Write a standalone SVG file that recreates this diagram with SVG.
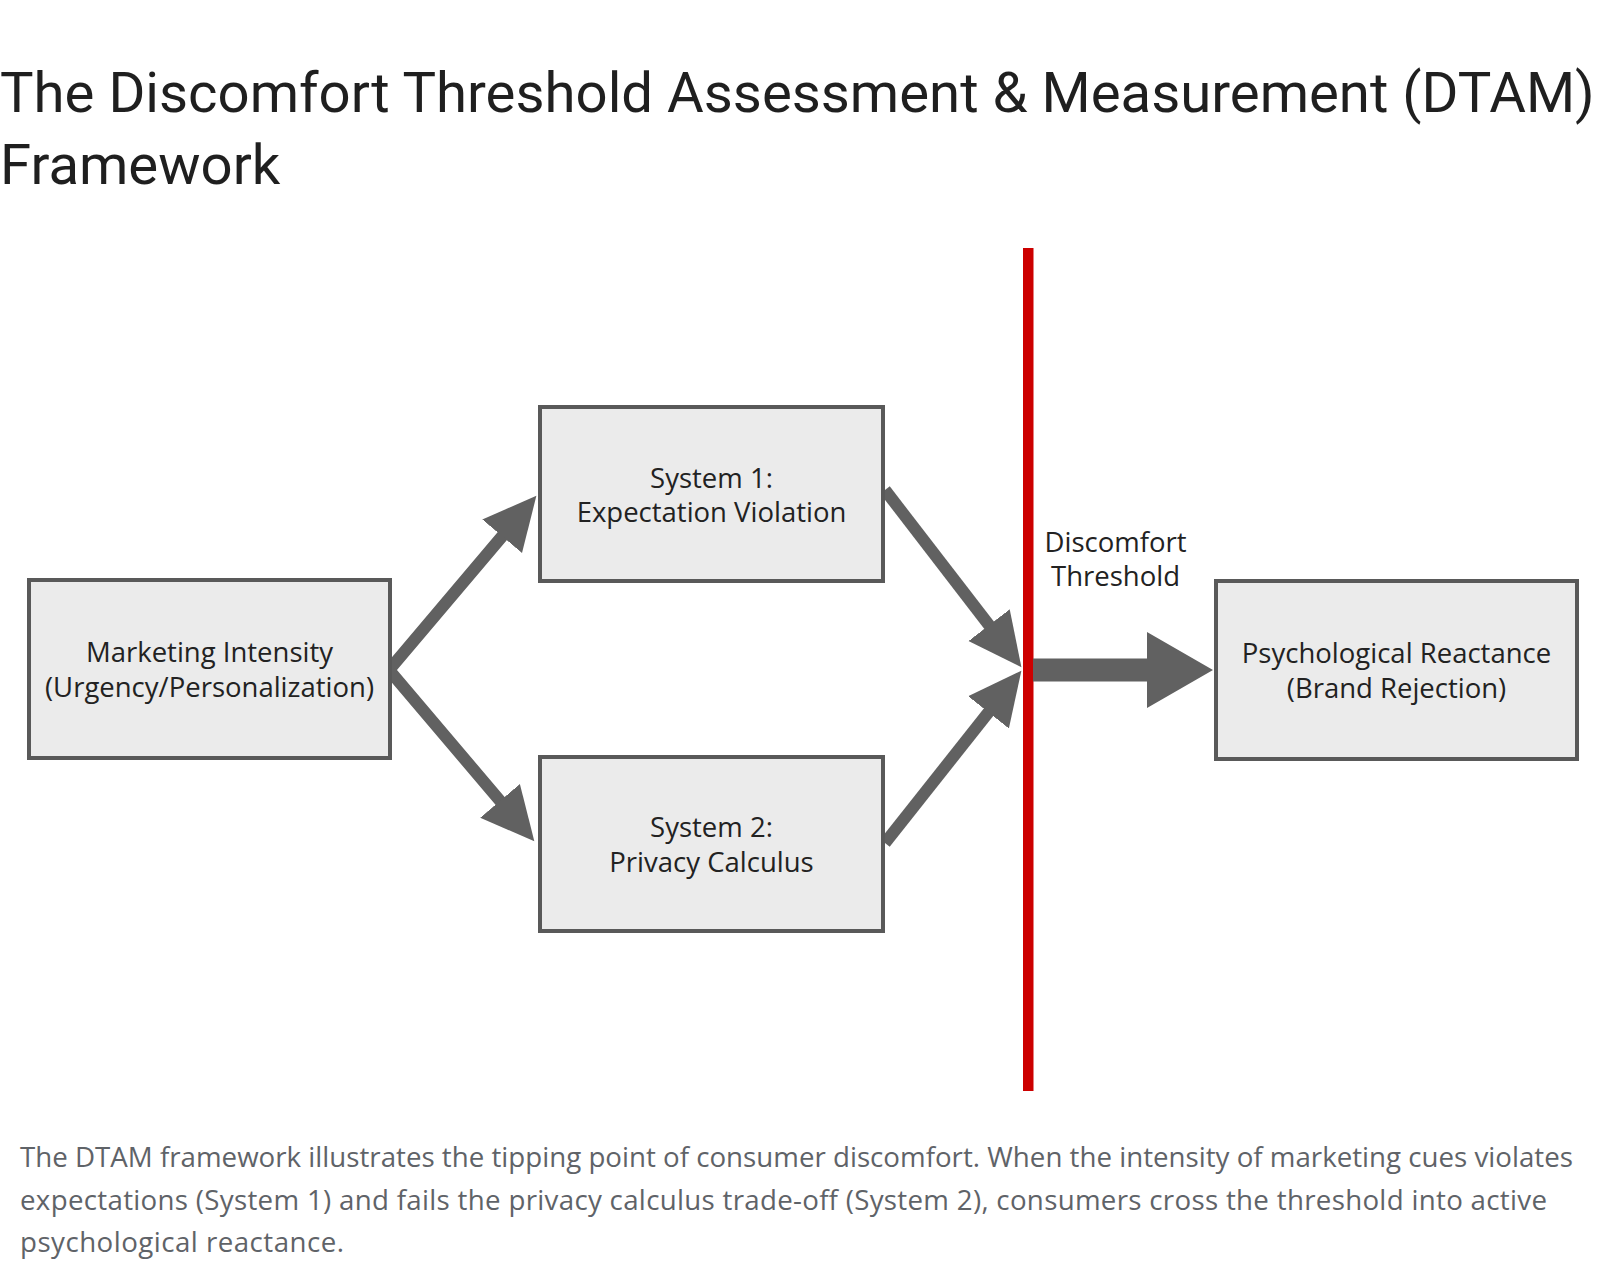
<svg xmlns="http://www.w3.org/2000/svg" width="1600" height="1278" viewBox="0 0 1600 1278">
  <style>
    .title { font-family: Roboto, "Liberation Sans", sans-serif; font-size: 56.3px; fill: #1f1f1f; }
    .caption { font-family: "Open Sans", "Liberation Sans", sans-serif; font-size: 27.7px; fill: #5f6368; }
    .box { fill: #ebebeb; stroke: #595959; stroke-width: 4; }
    .lbl { font-family: "Open Sans", "Liberation Sans", sans-serif; font-size: 27.5px; fill: #222222; text-anchor: middle; }
    .conn { fill: none; stroke: #616161; stroke-width: 12; stroke-linejoin: miter; }
  </style>
  <defs>
    <marker id="head" markerUnits="userSpaceOnUse" markerWidth="60" markerHeight="60" viewBox="0 -30 60 60" refX="1" refY="0" orient="auto-start-reverse">
      <path d="M0,-26 L53,0 L0,26 Z" fill="#616161"/>
    </marker>
  </defs>
  <rect width="1600" height="1278" fill="#ffffff"/>

  <g id="title">
    <text class="title" x="0" y="112">The Discomfort Threshold Assessment &amp; Measurement (DTAM)</text>
    <text class="title" x="0" y="184">Framework</text>
  </g>

  <g id="threshold-line">
    <rect x="1023" y="248" width="10.5" height="843" fill="#cc0000"/>
  </g>

  <g id="connectors">
    <polyline class="conn" points="502.8,535.5 389,670 500.7,801.6" marker-start="url(#head)" marker-end="url(#head)"/>
    <line class="conn" x1="885" y1="490" x2="989.7" y2="626" marker-end="url(#head)"/>
    <line class="conn" x1="885" y1="843" x2="989.1" y2="711.5" marker-end="url(#head)"/>
    <path d="M1033,658.5 L1147,658.5 L1147,632 L1213,670 L1147,708 L1147,681.5 L1033,681.5 Z" fill="#616161"/>
  </g>

  <g id="node-marketing">
    <rect class="box" x="29" y="580" width="361" height="178"/>
    <text class="lbl" x="209.5" y="662">Marketing Intensity</text>
    <text class="lbl" x="209.5" y="697">(Urgency/Personalization)</text>
  </g>

  <g id="node-system1">
    <rect class="box" x="540" y="407" width="343" height="174"/>
    <text class="lbl" x="711.5" y="488">System 1:</text>
    <text class="lbl" x="711.5" y="522">Expectation Violation</text>
  </g>

  <g id="node-system2">
    <rect class="box" x="540" y="757" width="343" height="174"/>
    <text class="lbl" x="711.5" y="837">System 2:</text>
    <text class="lbl" x="711.5" y="872">Privacy Calculus</text>
  </g>

  <g id="node-threshold-label">
    <text class="lbl" x="1115.5" y="552">Discomfort</text>
    <text class="lbl" x="1115.5" y="586">Threshold</text>
  </g>

  <g id="node-reactance">
    <rect class="box" x="1216" y="581" width="361" height="178"/>
    <text class="lbl" x="1396.5" y="663">Psychological Reactance</text>
    <text class="lbl" x="1396.5" y="698">(Brand Rejection)</text>
  </g>

  <g id="caption">
    <text class="caption" x="20" y="1167" textLength="1553" lengthAdjust="spacing">The DTAM framework illustrates the tipping point of consumer discomfort. When the intensity of marketing cues violates</text>
    <text class="caption" x="20" y="1210" textLength="1527" lengthAdjust="spacing">expectations (System 1) and fails the privacy calculus trade-off (System 2), consumers cross the threshold into active</text>
    <text class="caption" x="20" y="1252" textLength="324" lengthAdjust="spacing">psychological reactance.</text>
  </g>
</svg>
